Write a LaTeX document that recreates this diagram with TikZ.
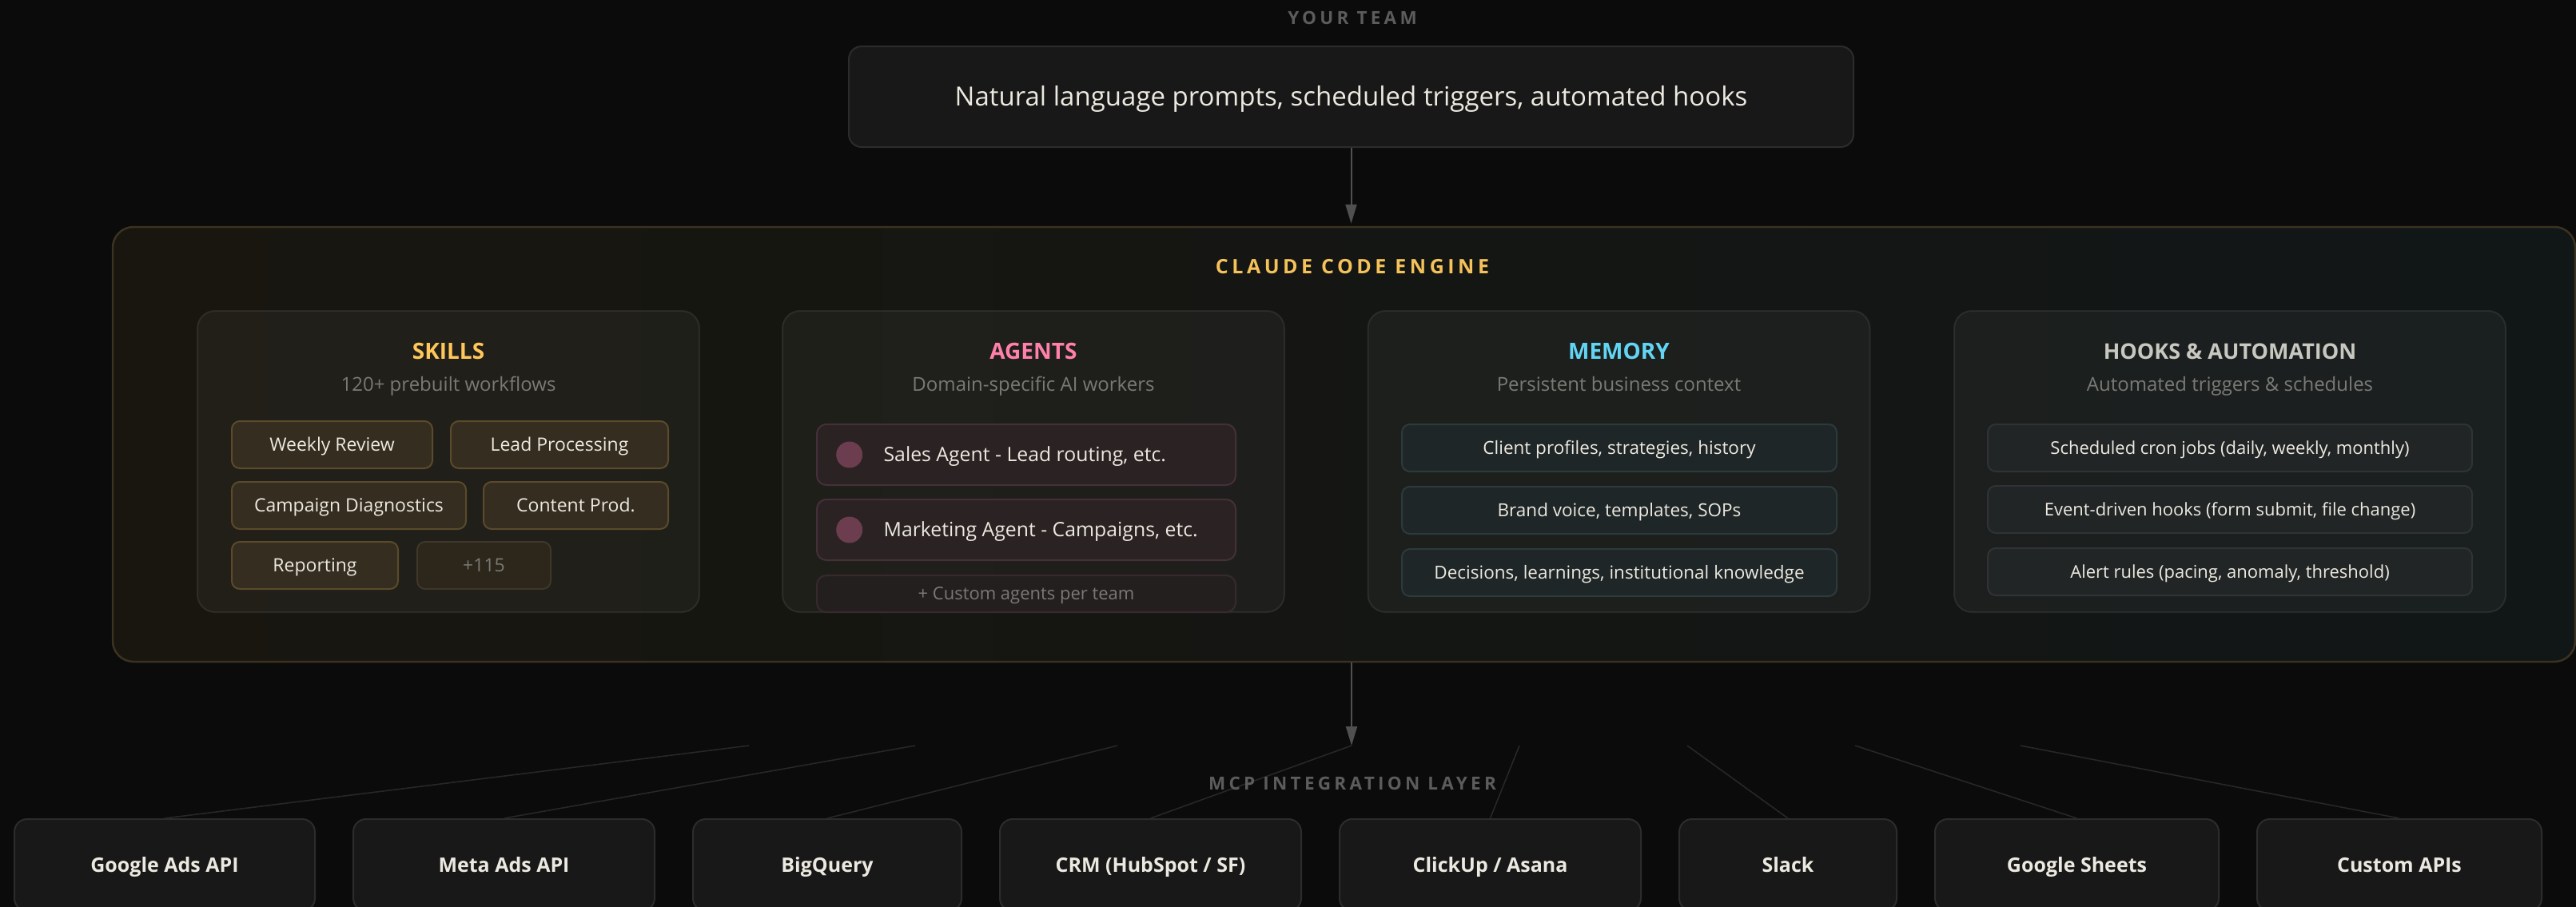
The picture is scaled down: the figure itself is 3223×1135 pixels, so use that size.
\documentclass[tikz,border=0pt]{standalone}
\usepackage{fontspec}
\setmainfont{Open Sans}
\newfontfamily\trackfont[LetterSpace=19]{Open Sans}
\newfontfamily\enginefont[LetterSpace=18]{Open Sans}
\usetikzlibrary{positioning,calc,arrows.meta}

\definecolor{canvas}{HTML}{0B0B0B}
\definecolor{inkmain}{HTML}{ECE9E0}
\definecolor{inkdim}{HTML}{7A7A75}
\definecolor{inklabel}{HTML}{5C5C5C}
\definecolor{boxfill}{HTML}{181818}
\definecolor{boxline}{HTML}{2C2C2C}
\definecolor{engleft}{HTML}{18160F}
\definecolor{engright}{HTML}{111617}
\definecolor{engline}{HTML}{3B3220}
\definecolor{enginegold}{HTML}{F5C15A}
\definecolor{skillgold}{HTML}{FFC65A}
\definecolor{agentpink}{HTML}{FF80AB}
\definecolor{memcyan}{HTML}{62D5F4}
\definecolor{hookgray}{HTML}{C8C8C0}
\definecolor{chipfill}{HTML}{352D1F}
\definecolor{chipline}{HTML}{5B4A2B}
\definecolor{chipdimfill}{HTML}{2C261B}
\definecolor{chipdimline}{HTML}{40362A}
\definecolor{agentfill}{HTML}{2A2223}
\definecolor{agentline}{HTML}{45303A}
\definecolor{customfill}{HTML}{231F1F}
\definecolor{customline}{HTML}{38292E}
\definecolor{agentdotc}{HTML}{6C3D4E}
\definecolor{memfill}{HTML}{1F2627}
\definecolor{memline}{HTML}{2D3A3C}
\definecolor{hookfill}{HTML}{212526}
\definecolor{hookline}{HTML}{2F3335}
\definecolor{fanline}{HTML}{272727}
\definecolor{arrowc}{HTML}{505050}

\tikzset{inputbox/.style={
            draw=boxline,
            fill=boxfill,
            line width=2pt,
            rounded corners=16pt,
            minimum width=1257pt,
            minimum height=126pt,
            inner sep=0pt,
            text=inkmain,
            font=\fontsize{33}{40}\selectfont,
            text height=23.5pt,
            text depth=0pt
        },
        enginebox/.style={
            draw=engline,
            left color=engleft,
            right color=engright,
            line width=2.5pt,
            rounded corners=26pt,
            minimum width=3081pt,
            minimum height=544pt,
            inner sep=0pt
        },
        panel/.style={
            draw=white,
            draw opacity=0.08,
            fill=white,
            fill opacity=0.04,
            line width=2pt,
            rounded corners=22pt,
            minimum width=628pt,
            minimum height=377pt,
            inner sep=0pt
        },
        chip/.style={
            draw=chipline,
            fill=chipfill,
            line width=2pt,
            rounded corners=10pt,
            minimum height=59pt,
            inner sep=0pt,
            anchor=west,
            text=inkmain,
            font=\fontsize{23}{27}\selectfont,
            text height=16.4pt,
            text depth=0pt
        },
        chipdim/.style={
            chip,
            draw=chipdimline,
            fill=chipdimfill,
            text=inkdim
        },
        agentrow/.style={
            draw=agentline,
            fill=agentfill,
            line width=2pt,
            rounded corners=12pt,
            minimum width=524pt,
            minimum height=76pt,
            inner sep=0pt,
            anchor=west
        },
        customrow/.style={
            agentrow,
            draw=customline,
            fill=customfill,
            minimum height=46pt,
            text=inkdim,
            font=\fontsize{22}{26}\selectfont,
            text height=15.7pt,
            text depth=0pt
        },
        agentdot/.style={
            circle,
            fill=agentdotc,
            inner sep=0pt,
            minimum size=33pt
        },
        agenttext/.style={
            inner sep=0pt,
            text=inkmain,
            font=\fontsize{24.8}{30}\selectfont,
            text height=17.7pt,
            text depth=0pt
        },
        memrow/.style={
            draw=memline,
            fill=memfill,
            line width=2pt,
            rounded corners=10pt,
            minimum width=544pt,
            minimum height=59pt,
            inner sep=0pt,
            text=inkmain,
            font=\fontsize{22.5}{27}\selectfont,
            text height=16pt,
            text depth=0pt
        },
        hookrow/.style={
            memrow,
            draw=hookline,
            fill=hookfill,
            minimum width=606pt,
            font=\fontsize{22}{26}\selectfont,
            text height=15.7pt
        },
        intbox/.style={
            draw=boxline,
            fill=boxfill,
            line width=2pt,
            rounded corners=16pt,
            minimum height=115pt,
            inner sep=0pt,
            anchor=west,
            text=inkmain,
            font=\bfseries\fontsize{25}{30}\selectfont,
            text height=17.9pt,
            text depth=0pt
        }
    }

\begin{document}
\begin{tikzpicture}
        [x=1pt,y=-1pt,
        flow/.style={draw=arrowc,line width=2pt,-{Triangle[length=24pt,width=14pt]}},
        fan/.style={draw=fanline,line width=1.6pt},
        layerlabel/.style={anchor=base,inner sep=0pt,text=inklabel,font=\trackfont\bfseries\fontsize{22.5}{27}\selectfont},
        paneltitle/.style={anchor=base,inner sep=0pt,font=\bfseries\fontsize{28}{34}\selectfont},
        panelsub/.style={anchor=base,inner sep=0pt,text=inkdim,font=\fontsize{24}{29}\selectfont}]

        \fill[canvas] (0,0) rectangle (3223,1135);
        \useasboundingbox (0,0) rectangle (3223,1135);

        % team input
        \node[layerlabel] (teamlbl) at (1692,30) {YOUR TEAM};
        \node[inputbox] (input) at (1690.5,121) {Natural language prompts, scheduled triggers, automated hooks};

        % engine
        \node[enginebox] (engine) at (1681.5,556) {};
        \node[anchor=base,inner sep=0pt,text=enginegold,font=\enginefont\bfseries\fontsize{25}{30}\selectfont] (enginelbl) at (1692,342) {CLAUDE CODE ENGINE};

        \node[panel] (skills) at (561,577.5) {};
        \node[panel] (agents) at (1293,577.5) {};
        \node[panel] (memory) at (2025.5,577.5) {};
        \node[panel,minimum width=690pt] (hooks) at (2790,577.5) {};

        \node[paneltitle,text=skillgold] (skillsttl) at (561,449) {SKILLS};
        \node[panelsub] (skillssub) at (561,489) {120+ prebuilt workflows};
        \node[paneltitle,text=agentpink] (agentsttl) at (1293,449) {AGENTS};
        \node[panelsub] (agentssub) at (1293,489) {Domain-specific AI workers};
        \node[paneltitle,text=memcyan] (memoryttl) at (2025.5,449) {MEMORY};
        \node[panelsub] (memorysub) at (2025.5,489) {Persistent business context};
        \node[paneltitle,text=hookgray,font=\bfseries\fontsize{27}{32}\selectfont] (hooksttl) at (2790,449) {HOOKS \& AUTOMATION};
        \node[panelsub] (hookssub) at (2790,489) {Automated triggers \& schedules};

        % skills
        \node[chip,minimum width=251pt] (wrev) at (289,556.5) {Weekly Review};
        \node[chip,minimum width=272pt,right=21pt of wrev] (leadp) {Lead Processing};
        \node[chip,minimum width=293pt] (campd) at (289,632.5) {Campaign Diagnostics};
        \node[chip,minimum width=231pt,right=20pt of campd] (contp) {Content Prod.};
        \node[chip,minimum width=208pt] (rept) at (289,707.5) {Reporting};
        \node[chipdim,minimum width=167pt,right=22pt of rept] (more) {+115};

        % agents
        \node[agentrow] (sales) at (1021,569) {};
        \node[agentdot,right=25pt of sales.west] (salesdot) {};
        \node[agenttext,right=26pt of salesdot] (salestxt) {Sales Agent - Lead routing, etc.};
        \node[agentrow,below=16pt of sales] (mkt) {};
        \node[agentdot,right=25pt of mkt.west] (mktdot) {};
        \node[agenttext,right=26pt of mktdot] (mkttxt) {Marketing Agent - Campaigns, etc.};
        \node[customrow,below=17pt of mkt] (custom) {+ Custom agents per team};

        % memory
        \node[memrow] (mem1) at (2026,560.5) {Client profiles, strategies, history};
        \node[memrow,below=17pt of mem1] (mem2) {Brand voice, templates, SOPs};
        \node[memrow,below=17pt of mem2] (mem3) {Decisions, learnings, institutional knowledge};

        % hooks
        \node[hookrow] (hook1) at (2790,560.5) {Scheduled cron jobs (daily, weekly, monthly)};
        \node[hookrow,below=16pt of hook1] (hook2) {Event-driven hooks (form submit, file change)};
        \node[hookrow,below=17pt of hook2] (hook3) {Alert rules (pacing, anomaly, threshold)};

        % integrations
        \node[intbox,minimum width=376pt] (gads) at (17,1082.5) {Google Ads API};
        \node[intbox,minimum width=377pt,right=46pt of gads] (meta) {Meta Ads API};
        \node[intbox,minimum width=336pt,right=46pt of meta] (bq) {BigQuery};
        \node[intbox,minimum width=377pt,right=46pt of bq] (crm) {CRM (HubSpot / SF)};
        \node[intbox,minimum width=377pt,right=46pt of crm] (clickup) {ClickUp / Asana};
        \node[intbox,minimum width=272pt,right=46pt of clickup] (slack) {Slack};
        \node[intbox,minimum width=355pt,right=46pt of slack] (sheets) {Google Sheets};
        \node[intbox,minimum width=356pt,right=46pt of sheets] (custapi) {Custom APIs};

        \coordinate (hub) at (1691,933);
        \coordinate (f1) at (937,933);
        \coordinate (f2) at (1145,933);
        \coordinate (f3) at (1398,933);
        \coordinate (f5) at (1901,933);
        \coordinate (f6) at (2111,933);
        \coordinate (f7) at (2321,933);
        \coordinate (f8) at (2528,933);

        \draw[fan] (f1) -- (gads.north);
        \draw[fan] (f2) -- (meta.north);
        \draw[fan] (f3) -- (bq.north);
        \draw[fan] (hub) -- (crm.north);
        \draw[fan] (f5) -- (clickup.north);
        \draw[fan] (f6) -- (slack.north);
        \draw[fan] (f7) -- (sheets.north);
        \draw[fan] (f8) -- (custapi.north);

        \node[layerlabel] (mcplbl) at (1692,988) {MCP INTEGRATION LAYER};

        \draw[flow,shorten >=3pt] (input.south) -- (input.south |- engine.north);
        \draw[flow] (engine.south -| hub) -- (hub);

    \end{tikzpicture}
\end{document}
